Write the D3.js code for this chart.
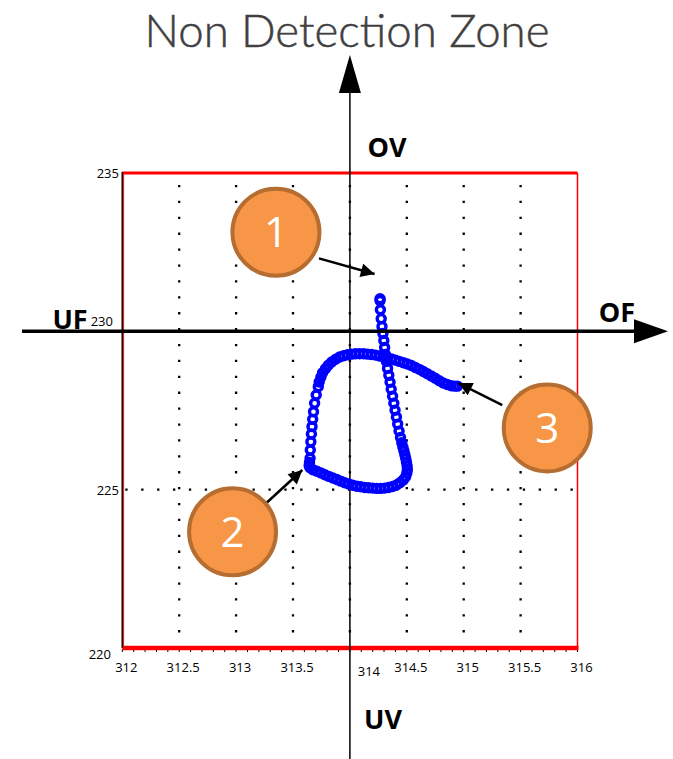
<!DOCTYPE html>
<html>
<head>
<meta charset="utf-8">
<script src="https://cdn.jsdelivr.net/npm/d3@7"></script>
<style>
  body { margin: 0; background: #fff; }
  svg { display: block; }
</style>
</head>
<body>
<div id="chart"></div>
<script>
// axis ticks
const freqTicks = [312, 312.5, 313, 313.5, 314, 314.5, 315, 315.5, 316];
const voltTicks = [220, 225, 230, 235];

// trajectory (Hz, V), in recording order
const freq = [
  314.265, 314.265, 314.268, 314.275, 314.282, 314.29, 314.298, 314.305, 314.312, 314.321,
  314.331, 314.342, 314.353, 314.363, 314.375, 314.386, 314.397, 314.409, 314.42, 314.432,
  314.445, 314.456, 314.466, 314.475, 314.483, 314.49, 314.497,
  314.503, 314.505, 314.5, 314.49, 314.47, 314.44, 314.41, 314.375, 314.34, 314.305,
  314.27, 314.235, 314.2, 314.165, 314.13, 314.095, 314.06, 314.025, 313.99, 313.955,
  313.92, 313.885, 313.85, 313.815, 313.78, 313.745, 313.71, 313.675, 313.65, 313.642,
  313.645, 313.65, 313.652, 313.657, 313.662, 313.667, 313.673, 313.68, 313.69, 313.704, 313.722,
  313.73, 313.745, 313.76, 313.785, 313.81, 313.84, 313.875, 313.91, 313.945, 313.98,
  314.015, 314.05, 314.085, 314.12, 314.155, 314.19, 314.225, 314.26, 314.295, 314.33,
  314.365, 314.4, 314.435, 314.47, 314.505, 314.54, 314.575, 314.61, 314.645, 314.68,
  314.715, 314.75, 314.785, 314.82, 314.855, 314.89, 314.92, 314.945
];
const volt = [
  231.03, 230.97, 230.68, 230.40, 230.15, 229.93, 229.71, 229.49, 229.27, 229.05,
  228.83, 228.61, 228.39, 228.17, 227.95, 227.73, 227.51, 227.29, 227.07, 226.85,
  226.65, 226.48, 226.34, 226.22, 226.10, 225.99, 225.87,
  225.75, 225.63, 225.52, 225.41, 225.31, 225.22, 225.15, 225.10, 225.07, 225.05,
  225.04, 225.04, 225.05, 225.06, 225.07, 225.09, 225.11, 225.14, 225.18, 225.22,
  225.27, 225.32, 225.37, 225.42, 225.47, 225.53, 225.58, 225.63, 225.69, 225.76,
  225.86, 225.99, 226.25, 226.51, 226.76, 226.99, 227.22, 227.46, 227.73, 227.99, 228.25,
  228.40, 228.55, 228.69, 228.82, 228.93, 229.03, 229.12, 229.19, 229.23, 229.26,
  229.28, 229.29, 229.29, 229.29, 229.28, 229.27, 229.25, 229.22, 229.19, 229.16,
  229.13, 229.09, 229.05, 229.01, 228.97, 228.92, 228.86, 228.80, 228.73, 228.66,
  228.59, 228.52, 228.44, 228.37, 228.32, 228.28, 228.27, 228.27
];

// numbered callouts: bubble centre, arrow start, arrow tip (Hz, V)
const callouts = [
  { label: "1", cx: 313.35, cy: 233.13, x1: 313.728, y1: 232.305, x2: 314.217, y2: 231.81 },
  { label: "2", cx: 312.969, cy: 223.67, x1: 313.237, y1: 224.484, x2: 313.582, y2: 225.62 },
  { label: "3", cx: 315.734, cy: 226.95, x1: 315.339, y1: 227.673, x2: 314.954, y2: 228.368 }
];

const W = 673, H = 759;
const x = d3.scaleLinear().domain([312, 316]).range([122.3, 577.5]);
const y = d3.scaleLinear().domain([220, 235]).range([648, 173]);

const svg = d3.select("#chart").append("svg")
  .attr("width", W).attr("height", H)
  .style("font-family", "'Open Sans', sans-serif");

svg.append("defs").append("marker")
  .attr("id", "head")
  .attr("viewBox", "0 0 10 10")
  .attr("refX", 10).attr("refY", 5)
  .attr("markerWidth", 6).attr("markerHeight", 5.5)
  .attr("markerUnits", "strokeWidth")
  .attr("orient", "auto")
  .append("path").attr("d", "M0,0 L10,5 L0,10 z").attr("fill", "#000");

// title
const title = svg.append("text")
  .attr("x", 347).attr("y", 47)
  .attr("text-anchor", "middle")
  .style("font-family", "Lato, 'Open Sans', sans-serif")
  .style("font-weight", 300)
  .style("font-size", "46px")
  .style("fill", "#404040")
  .style("stroke", "#404040")
  .style("stroke-width", 0.5)
  .text("Non Detection Zone");
const tw = title.node().getComputedTextLength();
title.style("font-size", (46 * 405 / tw) + "px");

// dotted grid
const grid = svg.append("g");
grid.selectAll("line.v")
  .data(freqTicks.slice(1, -1))
  .enter().append("line")
  .attr("x1", d => x(d)).attr("x2", d => x(d))
  .attr("y1", y(235)).attr("y2", y(220))
  .attr("stroke", "#000").attr("stroke-width", 2.3)
  .attr("stroke-dasharray", "2.3 13.6").attr("stroke-dashoffset", 4);
grid.append("line")
  .attr("x1", x(312)).attr("x2", x(316))
  .attr("y1", y(225)).attr("y2", y(225))
  .attr("stroke", "#000").attr("stroke-width", 2.3)
  .attr("stroke-dasharray", "2.3 13.6").attr("stroke-dashoffset", -3);

// minor ticks along the bottom
svg.append("g").selectAll("line")
  .data(d3.range(0, 41).map(i => 312 + i * 0.1))
  .enter().append("line")
  .attr("x1", d => x(d)).attr("x2", d => x(d))
  .attr("y1", y(220) + 1).attr("y2", y(220) + 4)
  .attr("stroke", "#000").attr("stroke-width", 1);

// red frame
svg.append("line").attr("x1", x(312)).attr("x2", x(316)).attr("y1", y(235)).attr("y2", y(235))
  .attr("stroke", "#ff0000").attr("stroke-width", 3);
svg.append("line").attr("x1", x(312)).attr("x2", x(316) + 1).attr("y1", y(220)).attr("y2", y(220))
  .attr("stroke", "#ff0000").attr("stroke-width", 4.5);
svg.append("line").attr("x1", x(316)).attr("x2", x(316)).attr("y1", y(235)).attr("y2", y(220))
  .attr("stroke", "#ff0000").attr("stroke-width", 1.5);
svg.append("line").attr("x1", x(312)).attr("x2", x(312)).attr("y1", y(235) - 1).attr("y2", y(220))
  .attr("stroke", "#000").attr("stroke-width", 1.6);
svg.append("line").attr("x1", x(312) + 1.3).attr("x2", x(312) + 1.3).attr("y1", y(235)).attr("y2", y(220))
  .attr("stroke", "#ff0000").attr("stroke-width", 1);

// tick labels
svg.append("g").selectAll("text")
  .data(freqTicks)
  .enter().append("text")
  .attr("x", d => x(d) + (d === 314 ? 19 : 4))
  .attr("y", d => d === 314 ? 676 : 672)
  .attr("text-anchor", "middle")
  .style("font-size", "13px")
  .style("fill", "#000")
  .text(d => d);

svg.append("g").selectAll("text")
  .data(voltTicks)
  .enter().append("text")
  .attr("x", d => d === 230 ? 113 : d === 220 ? 111 : 119)
  .attr("y", d => d === 230 ? y(d) - 5 : d === 220 ? y(d) + 11 : y(d) + 5)
  .attr("text-anchor", "end")
  .style("font-size", "13px")
  .style("fill", "#000")
  .text(d => d);

// vertical main axis (behind the trace)
svg.append("line")
  .attr("x1", x(314)).attr("x2", x(314))
  .attr("y1", H).attr("y2", 92)
  .attr("stroke", "#000").attr("stroke-width", 1.5);
svg.append("path")
  .attr("d", `M${x(314)},55 L${x(314) + 11},93 L${x(314) - 11},93 Z`)
  .attr("fill", "#000");

// trajectory markers
const pts = freq.map((f, i) => ({ f: f, v: volt[i] }));
svg.append("g").selectAll("circle")
  .data(pts)
  .enter().append("circle")
  .attr("cx", d => x(d.f))
  .attr("cy", d => y(d.v))
  .attr("r", 4)
  .attr("fill", "none")
  .attr("stroke", "#0000ff")
  .attr("stroke-width", 3.4);

// horizontal main axis
svg.append("line")
  .attr("x1", 22).attr("x2", 638)
  .attr("y1", y(230)).attr("y2", y(230))
  .attr("stroke", "#000").attr("stroke-width", 3.5);
svg.append("path")
  .attr("d", `M668,${y(230)} L634,${y(230) - 12} L634,${y(230) + 12} Z`)
  .attr("fill", "#000");

// zone labels
const zone = svg.append("g")
  .style("font-weight", 700)
  .style("font-size", "27px")
  .style("fill", "#000")
  .attr("text-anchor", "middle");
zone.append("text").attr("x", 387).attr("y", 157).text("OV");
zone.append("text").attr("x", 383).attr("y", 729).text("UV");
zone.append("text").attr("x", 70).attr("y", 329).text("UF");
zone.append("text").attr("x", 617).attr("y", 322).text("OF");

// callouts
const co = svg.append("g").selectAll("g")
  .data(callouts)
  .enter().append("g");
co.append("line")
  .attr("x1", d => x(d.x1)).attr("y1", d => y(d.y1))
  .attr("x2", d => x(d.x2)).attr("y2", d => y(d.y2))
  .attr("stroke", "#000").attr("stroke-width", 2.5)
  .attr("marker-end", "url(#head)");
co.append("circle")
  .attr("cx", d => x(d.cx)).attr("cy", d => y(d.cy))
  .attr("r", 43.5)
  .attr("fill", "#f79646")
  .attr("stroke", "#b66d31")
  .attr("stroke-width", 4);
co.append("text")
  .attr("x", d => x(d.cx)).attr("y", d => y(d.cy) + 15)
  .attr("text-anchor", "middle")
  .style("font-size", "42px")
  .style("fill", "#fff")
  .text(d => d.label);
</script>
</body>
</html>
